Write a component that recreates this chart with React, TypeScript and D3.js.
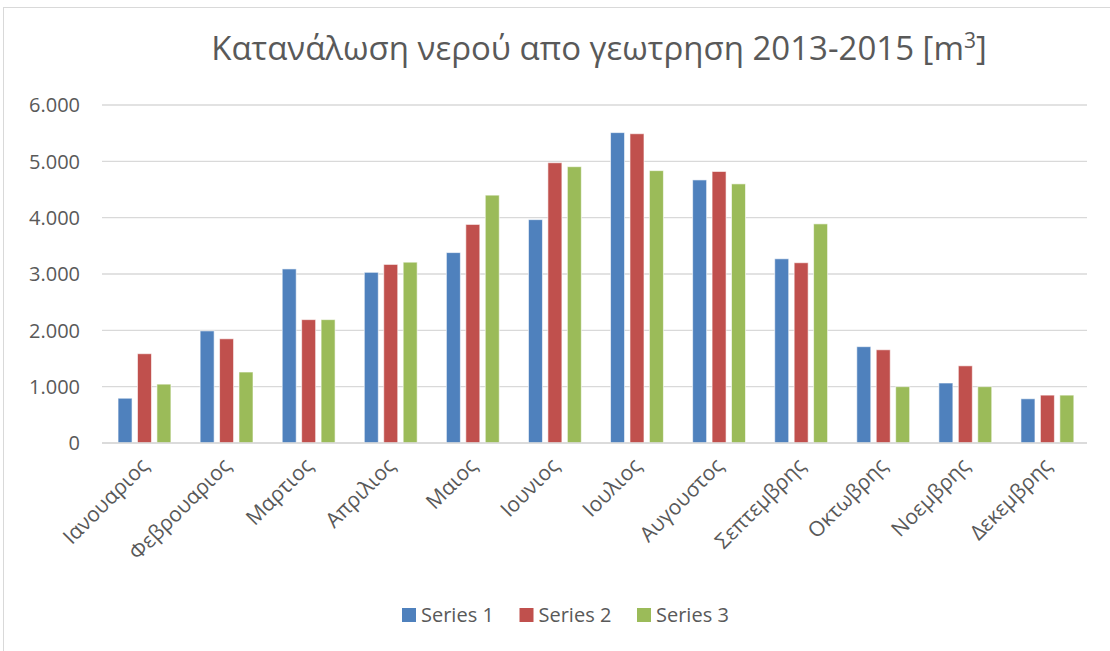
import React from "react";
import * as d3 from "d3";

const months = ["Ιανουαριος", "Φεβρουαριος", "Μαρτιος", "Απριλιος", "Μαιος", "Ιουνιος", "Ιουλιος", "Αυγουστος", "Σεπτεμβρης", "Οκτωβρης", "Νοεμβρης", "Δεκεμβρης"];
const seriesNames = ["Series 1", "Series 2", "Series 3"];
const series1 = [795, 1990, 3090, 3030, 3380, 3965, 5510, 4670, 3270, 1710, 1065, 785];
const series2 = [1585, 1850, 2190, 3170, 3880, 4975, 5490, 4820, 3200, 1655, 1370, 850];
const series3 = [1045, 1260, 2190, 3210, 4400, 4905, 4835, 4600, 3890, 1000, 1000, 850];
const yTicks = [0, 1000, 2000, 3000, 4000, 5000, 6000];
const colors = ["#4F81BD", "#C0504D", "#9BBB59"];

const W = 1110, H = 651;
const left = 102, right = 1087, top = 105, bottom = 443;
const font = "'Open Sans', sans-serif";

export default function App() {
  const x = d3.scaleBand<string>().domain(months).range([left, right]).paddingInner(0).paddingOuter(0);
  const y = d3.scaleLinear().domain([0, 6000]).range([bottom, top]);
  const bw = x.bandwidth();
  const barW = 14, gap = 4;
  const groupW = barW * 3 + gap * 2;
  const inner = d3.scaleBand<number>().domain([0, 1, 2]).range([0, groupW + gap]).paddingInner(gap / (barW + gap)).paddingOuter(0);
  const data = [series1, series2, series3];
  const fmt = (v: number) => (v === 0 ? "0" : d3.format(",")(v).replace(/,/g, "."));

  return (
    <svg width={W} height={H} style={{ position: "absolute", left: 0, top: 0, background: "#fff" }} fontFamily={font}>
      <rect x={3.5} y={7.5} width={W + 10} height={H + 10} fill="#fff" stroke="#d9d9d9" strokeWidth={1} />
      <text x={599} y={60} textAnchor="middle" fontSize={33} fill="#595959">
        Κατανάλωση νερού απο γεωτρηση 2013-2015 [m
        <tspan fontSize={21} dy={-12}>3</tspan>
        <tspan dy={12}>]</tspan>
      </text>
      {yTicks.map((t) => (
        <g key={t}>
          <line x1={left} x2={right} y1={y(t)} y2={y(t)} stroke="#d9d9d9" strokeWidth={1.3} />
          <text x={80} y={y(t)} dy="0.36em" textAnchor="end" fontSize={20} fill="#595959">{fmt(t)}</text>
        </g>
      ))}
      {months.map((m, i) => {
        const x0 = (x(m) as number) + (bw - groupW) / 2;
        return (
          <g key={m}>
            {data.map((s, k) => (
              <rect key={k} x={x0 + (inner(k) as number)} y={y(s[i])} width={barW} height={bottom - y(s[i])}
                fill={colors[k]} stroke="#ffffff" strokeOpacity={0.6} strokeWidth={1} />
            ))}
            <text transform={`translate(${(x(m) as number) + bw / 2 + 7},${467}) rotate(-45)`} textAnchor="end" fontSize={21} fill="#595959">{m}</text>
          </g>
        );
      })}
      <line x1={left} x2={right} y1={bottom} y2={bottom} stroke="#d9d9d9" strokeWidth={1.3} />
      {seriesNames.map((n, k) => {
        const lx = 402 + k * 117.5;
        return (
          <g key={n}>
            <rect x={lx} y={608} width={14} height={14} fill={colors[k]} />
            <text x={lx + 19} y={622} fontSize={20} fill="#595959">{n}</text>
          </g>
        );
      })}
    </svg>
  );
}
